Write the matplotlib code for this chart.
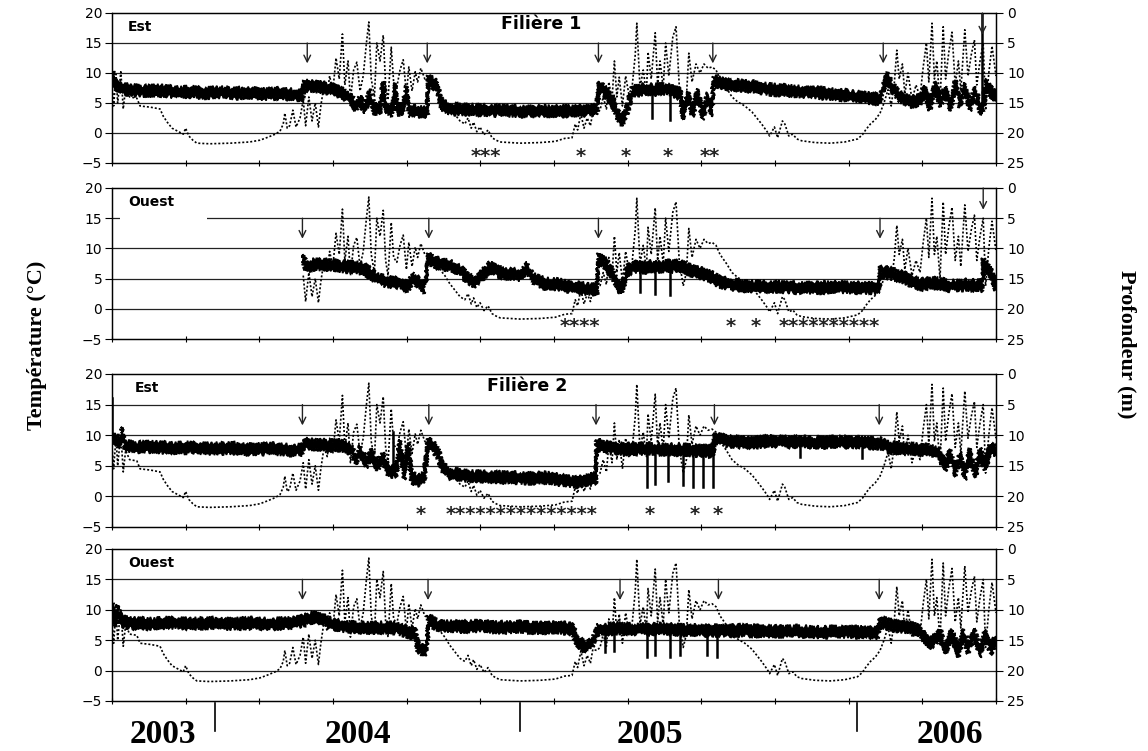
import numpy as np
import matplotlib.pyplot as plt
from matplotlib.patches import Rectangle

# Temps en jours depuis le debut des enregistrements (axe x sans etiquettes)
# Temperature (degC) - les quatre capteurs donnent des courbes quasi identiques
temperature = [
    (0, 8.0), (2, 4.5), (5, 9.8), (7, 5.0), (11, 10.2), (14, 4.0), (17, 7.5), (22, 6.0),
    (31, 5.8), (35, 4.5), (48, 4.3), (60, 4.0), (64, 2.8), (69, 1.8), (75, 0.8), (82, 0.3),
    (89, -0.2), (92, 0.8), (96, -0.5), (101, -1.2), (106, -1.7), (122, -1.8), (148, -1.7),
    (172, -1.5), (185, -1.2), (195, -0.7), (204, -0.2), (210, 0.3), (214, 1.5), (216, 3.3),
    (219, 0.8), (222, 1.2), (226, 3.8), (230, 1.0), (235, 2.5), (239, 5.5), (242, 1.2),
    (246, 6.0), (250, 2.0), (254, 5.0), (258, 1.0), (261, 4.5), (265, 8.0), (269, 6.5),
    (272, 9.5), (276, 7.0), (280, 12.5), (284, 9.0), (288, 16.5), (291, 8.0), (295, 12.0),
    (298, 5.5), (302, 10.5), (306, 11.8), (310, 7.0), (314, 9.5), (318, 15.0), (321, 18.5),
    (324, 9.0), (328, 6.0), (331, 15.0), (335, 12.0), (339, 16.3), (342, 8.0), (345, 5.5),
    (349, 14.3), (352, 8.5), (356, 7.7), (360, 10.5), (364, 12.2), (368, 6.5), (371, 11.0),
    (375, 7.0), (379, 10.2), (382, 8.5), (386, 10.8), (391, 9.0), (398, 8.5), (404, 8.0),
    (410, 6.5), (416, 5.5), (422, 4.2), (429, 3.0), (435, 2.0), (441, 1.5), (445, 2.5),
    (449, 0.8), (452, 1.8), (456, 0.2), (460, 1.0), (465, -0.3), (470, 0.5), (475, -0.8),
    (480, -1.2), (485, -1.5), (510, -1.7), (535, -1.6), (554, -1.4), (566, -0.9), (575, -0.8),
    (579, 1.5), (582, 0.5), (586, 3.2), (590, 0.8), (594, 2.5), (598, 1.2), (601, 3.5),
    (606, 3.3), (610, 3.8), (614, 6.0), (618, 4.0), (621, 8.5), (625, 5.5), (628, 12.0),
    (631, 6.0), (634, 9.3), (638, 4.5), (642, 9.5), (646, 6.5), (650, 7.5), (654, 13.0),
    (656, 18.3), (660, 7.5), (664, 10.5), (668, 6.5), (670, 13.5), (674, 9.0), (679, 16.7),
    (682, 8.0), (685, 12.0), (689, 7.5), (692, 15.0), (696, 9.5), (701, 16.0), (705, 17.7),
    (709, 8.0), (714, 3.8), (718, 6.0), (721, 13.3), (725, 8.5), (730, 11.5), (735, 10.0),
    (740, 11.5), (745, 10.8), (750, 11.0), (755, 10.5), (760, 9.0), (768, 7.5), (775, 6.0),
    (782, 5.2), (791, 4.5), (800, 3.5), (806, 2.5), (812, 1.5), (819, 0.2), (822, -0.5),
    (828, 1.0), (832, -0.8), (838, 2.0), (841, 1.5), (846, -0.5), (851, -0.2), (856, -1.0),
    (862, -1.3), (879, -1.6), (898, -1.7), (916, -1.5), (932, -1.0), (938, -0.3), (942, 0.5),
    (948, 1.5), (954, 2.2), (960, 3.3), (965, 5.0), (970, 7.2), (974, 4.5), (978, 8.5),
    (981, 13.8), (984, 9.0), (988, 11.5), (991, 6.5), (995, 10.0), (1000, 5.5), (1005, 8.0),
    (1010, 6.0), (1014, 11.0), (1018, 15.0), (1021, 8.5), (1025, 18.3), (1028, 9.0),
    (1031, 12.0), (1035, 5.0), (1039, 17.7), (1042, 9.0), (1046, 13.5), (1050, 16.8),
    (1054, 8.0), (1058, 12.0), (1061, 7.0), (1066, 17.2), (1070, 9.5), (1074, 13.0),
    (1078, 15.5), (1081, 8.0), (1085, 12.0), (1089, 15.0), (1092, 3.8), (1096, 10.0),
    (1100, 14.5), (1105, 9.5),
]

# Profondeur (m) des filieres : tendance (bande epaisse) et pics isoles (jour, de, a)
prof_f1_est = [
    (0, 11.5), (2, 10.5), (5, 12.2), (10, 12.5), (22, 12.8), (41, 13.0), (60, 12.9), (79, 13.2),
    (98, 13.1), (116, 13.3), (135, 13.2), (154, 13.4), (172, 13.3), (191, 13.5), (210, 13.4),
    (229, 13.6), (238, 13.6), (240, 12.1), (254, 12.2), (272, 12.6), (285, 13.2), (298, 14.2),
    (304, 15.5), (310, 14.5), (316, 16.0), (322, 13.5), (329, 16.2), (335, 15.8), (339, 12.2),
    (342, 16.0), (350, 16.4), (354, 12.5), (357, 16.2), (364, 16.0), (368, 13.0), (371, 16.4),
    (379, 16.4), (385, 16.5), (394, 16.6), (395, 11.2), (401, 11.6), (406, 12.2), (411, 15.2),
    (422, 16.0), (448, 16.1), (472, 16.2), (498, 16.3), (522, 16.4), (548, 16.4), (572, 16.3),
    (598, 16.2), (606, 16.1), (609, 12.2), (616, 13.2), (625, 14.5), (632, 17.0), (639, 18.0),
    (645, 15.5), (650, 13.0), (666, 12.7), (679, 12.8), (691, 12.6), (701, 13.0), (710, 13.5),
    (714, 17.0), (720, 14.0), (726, 16.5), (732, 13.5), (739, 17.0), (745, 14.0), (750, 16.5),
    (752, 11.4), (772, 12.0), (798, 12.2), (822, 12.7), (848, 13.0), (872, 13.2), (898, 13.5),
    (922, 13.8), (948, 14.2), (960, 14.4), (969, 10.7), (976, 12.5), (985, 14.0), (998, 14.8),
    (1010, 14.5), (1016, 13.0), (1022, 15.5), (1029, 12.2), (1035, 15.0), (1042, 13.0),
    (1048, 15.5), (1054, 12.0), (1060, 15.0), (1066, 12.5), (1072, 15.5), (1079, 13.0),
    (1085, 16.0), (1089, 16.0), (1092, 11.7), (1098, 13.0), (1105, 14.0),
]
pics_f1_est = [(675, 12.8, 17.5), (698, 12.6, 17.8), (1088, 16.0, 0.0)]

prof_f1_ouest = [
    (239, 11.8), (242, 13.0), (254, 12.6), (272, 12.7), (291, 13.0), (304, 13.1), (316, 13.4),
    (325, 14.4), (335, 15.2), (348, 15.6), (360, 15.7), (370, 16.4), (375, 14.9), (382, 15.5),
    (391, 16.6), (395, 11.6), (404, 12.4), (422, 12.8), (435, 13.6), (445, 15.0), (454, 15.6),
    (462, 14.5), (472, 13.1), (485, 14.0), (498, 14.2), (510, 14.4), (519, 13.2), (526, 15.0),
    (541, 15.8), (560, 16.0), (579, 16.5), (598, 16.8), (606, 16.9), (608, 11.6), (616, 12.5),
    (625, 14.0), (632, 16.2), (638, 16.6), (645, 13.5), (650, 13.2), (657, 13.0), (662, 13.2),
    (676, 13.0), (681, 13.1), (695, 12.9), (700, 13.0), (710, 12.8), (722, 13.6), (744, 14.4),
    (760, 15.6), (785, 16.2), (810, 16.3), (835, 16.4), (860, 16.5), (885, 16.5), (910, 16.4),
    (935, 16.5), (959, 16.6), (960, 13.9), (972, 14.1), (991, 14.9), (1010, 16.0), (1029, 15.7),
    (1048, 16.2), (1066, 16.0), (1088, 16.2), (1089, 12.4), (1098, 14.0), (1105, 16.2),
]
pics_f1_ouest = [(660, 13.2, 17.2), (679, 13.0, 17.5), (698, 12.9, 17.7)]

prof_f2_est = [
    (1, 10.5), (5, 10.8), (10, 11.2), (12, 9.5), (16, 11.7), (29, 12.0), (48, 11.9),
    (72, 12.1), (98, 12.0), (122, 12.2), (148, 12.1), (172, 12.3), (198, 12.2), (222, 12.4),
    (238, 12.4), (241, 11.4), (260, 11.6), (285, 11.7), (298, 12.2), (305, 14.0), (310, 12.5),
    (318, 14.5), (325, 13.0), (332, 15.0), (339, 13.5), (345, 16.0), (355, 15.8), (360, 11.5),
    (365, 16.5), (370, 12.0), (375, 17.0), (382, 17.4), (390, 17.0), (395, 11.3), (401, 11.8),
    (408, 13.0), (412, 15.2), (422, 16.3), (448, 16.7), (472, 16.8), (498, 16.9), (522, 17.0),
    (548, 17.0), (566, 17.5), (585, 17.6), (598, 17.2), (605, 17.0), (606, 11.6), (622, 12.1),
    (641, 12.3), (666, 12.2), (692, 12.3), (711, 12.4), (736, 12.5), (750, 12.7), (754, 10.5),
    (772, 11.1), (798, 11.2), (822, 11.0), (848, 11.1), (885, 11.2), (910, 11.1), (959, 11.3),
    (972, 12.0), (998, 12.2), (1022, 12.5), (1035, 13.0), (1042, 15.0), (1048, 13.2),
    (1054, 16.0), (1060, 13.5), (1066, 16.5), (1072, 13.0), (1079, 16.2), (1085, 12.8),
    (1091, 15.0), (1098, 12.2), (1105, 12.5),
]
pics_f2_est = [(0, 10.5, 4.0), (351, 14.5, 9.5), (669, 12.2, 18.5), (679, 12.1, 18.0),
               (695, 12.3, 17.5), (714, 12.4, 18.2), (726, 12.5, 18.4), (739, 12.5, 18.4),
               (751, 12.7, 18.4), (860, 11.1, 13.5), (938, 11.1, 13.7)]

prof_f2_ouest = [
    (0, 11.5), (1, 9.7), (4, 12.0), (7, 10.0), (11, 11.8), (22, 12.2), (48, 12.3), (72, 12.1),
    (98, 12.3), (122, 12.2), (148, 12.3), (172, 12.2), (198, 12.3), (222, 12.2), (241, 11.7),
    (250, 11.2), (266, 11.8), (279, 12.5), (298, 12.8), (316, 13.0), (335, 12.9), (354, 13.0),
    (366, 13.4), (379, 14.0), (382, 16.1), (390, 16.8), (394, 16.2), (395, 11.7), (410, 12.7),
    (435, 12.8), (460, 12.7), (485, 12.9), (510, 12.8), (535, 13.0), (560, 12.9), (575, 13.2),
    (582, 15.0), (591, 16.3), (600, 15.5), (608, 13.2), (620, 13.2), (632, 13.0), (641, 13.2),
    (666, 13.2), (695, 13.2), (712, 13.3), (741, 13.4), (759, 13.5), (785, 13.4), (810, 13.5),
    (835, 13.6), (860, 13.5), (885, 13.7), (910, 13.6), (935, 13.7), (958, 13.8), (960, 12.1),
    (979, 12.6), (998, 13.0), (1010, 13.5), (1020, 15.5), (1029, 15.0), (1035, 14.0),
    (1042, 16.5), (1050, 14.0), (1058, 17.0), (1064, 14.0), (1070, 16.5), (1078, 13.8),
    (1085, 17.0), (1091, 14.0), (1098, 16.5), (1105, 15.0),
]
pics_f2_ouest = [(616, 13.2, 17.0), (628, 13.0, 16.8), (669, 13.2, 17.8), (679, 13.3, 17.5),
                 (698, 13.2, 17.8), (710, 13.2, 17.5), (744, 13.4, 17.5), (756, 13.3, 17.8)]

# Fleches (jours) et etoiles (jour, nombre)
fleches_f1_est = [244, 394, 608, 751, 964]
fleches_f1_ouest = [238, 396, 608, 960]
fleches_f2_est = [238, 396, 605, 753, 959]
fleches_f2_ouest = [238, 395, 635, 758, 959]
etoiles_f1_est = [(467, 3), (586, 1), (642, 1), (695, 1), (747, 2)]
etoiles_f1_ouest = [(585, 4), (774, 1), (805, 1), (896, 10)]
etoiles_f2_est = [(386, 1), (512, 15), (672, 1), (729, 1), (757, 1)]

annees = ['2003', '2004', '2005', '2006']
pos_annees = [64, 307, 672, 1047]
separations = [129, 510, 931]

panneaux = [
    dict(prof=prof_f1_est, pics=pics_f1_est, debut=0, site='Est', x_site=20,
         titre='Filière 1', x_titre=536, fleches=fleches_f1_est, haut=[1088],
         etoiles=etoiles_f1_est, y_et=-4.0, box=(0.7830, 0.1997)),
    dict(prof=prof_f1_ouest, pics=pics_f1_ouest, debut=238, site='Ouest', x_site=20,
         titre=None, x_titre=0, fleches=fleches_f1_ouest, haut=[1089],
         etoiles=etoiles_f1_ouest, y_et=-3.0, box=(0.5486, 0.2011)),
    dict(prof=prof_f2_est, pics=pics_f2_est, debut=0, site='Est', x_site=29,
         titre='Filière 2', x_titre=519, fleches=fleches_f2_est, haut=[],
         etoiles=etoiles_f2_est, y_et=-3.0, box=(0.2983, 0.2037)),
    dict(prof=prof_f2_ouest, pics=pics_f2_ouest, debut=0, site='Ouest', x_site=20,
         titre=None, x_titre=0, fleches=fleches_f2_ouest, haut=[],
         etoiles=[], y_et=-3.0, box=(0.0666, 0.2024)),
]

demi_bande = 0.8  # demi-epaisseur du trait de profondeur (m)

jt = np.array([p[0] for p in temperature], dtype=float)
tt = np.array([p[1] for p in temperature], dtype=float)

fig = plt.figure(figsize=(11.48, 7.51), dpi=100)

for i, pan in enumerate(panneaux):
    ax = fig.add_axes([0.0976, pan['box'][0], 0.770, pan['box'][1]])
    ax.set_xlim(0, 1105)
    ax.set_ylim(-5, 20)
    ax.set_yticks([-5, 0, 5, 10, 15, 20])
    ax.set_xticks(np.linspace(0, 1105, 13))
    ax.set_xticklabels([])
    for y in [0, 5, 10, 15]:
        ax.axhline(y, color='#222222', lw=0.9, zorder=1)
    ax.tick_params(axis='y', direction='out', length=5, width=0.8, pad=2, labelsize=10)
    ax.tick_params(axis='x', direction='inout', length=4, width=0.8)
    for lab in ax.get_yticklabels():
        lab.set_fontfamily('DejaVu Sans')
    for s in ax.spines.values():
        s.set_linewidth(0.9)

    # temperature en pointille
    m = jt >= pan['debut']
    ax.plot(jt[m], tt[m], color='black', lw=1.2, ls=(0, (1.2, 1.2)), zorder=2)

    # profondeur sur l'axe de droite (inverse)
    ax2 = ax.twinx()
    ax2.set_ylim(25, 0)
    ax2.set_yticks([0, 5, 10, 15, 20, 25])
    ax2.tick_params(axis='y', direction='out', length=5, width=0.8, pad=3, labelsize=10)
    for lab in ax2.get_yticklabels():
        lab.set_fontfamily('DejaVu Sans')
    for s in ax2.spines.values():
        s.set_linewidth(0.9)
    jp = np.array([p[0] for p in pan['prof']], dtype=float)
    pp = np.array([p[1] for p in pan['prof']], dtype=float)
    poly = ax2.fill(np.concatenate([jp, jp[::-1]]),
                    np.concatenate([pp - demi_bande, (pp + demi_bande)[::-1]]),
                    facecolor='black', edgecolor='black', lw=1.2, zorder=3)[0]
    poly.set_sketch_params(2.0, 1.2, 3)
    for x, a, b in pan['pics']:
        ax2.plot([x, x], [a, b], color='black', lw=1.8, zorder=3)

    # fleches
    for x in pan['fleches']:
        ax2.annotate('', xy=(x, 8.4), xytext=(x, 5.0),
                     arrowprops=dict(arrowstyle='->', lw=1.0, color='#222222',
                                     mutation_scale=12, shrinkA=0, shrinkB=0))
    for x in pan['haut']:
        ax2.annotate('', xy=(x, 3.6), xytext=(x, 0.0),
                     arrowprops=dict(arrowstyle='->', lw=1.0, color='#222222',
                                     mutation_scale=12, shrinkA=0, shrinkB=0))

    for x, n in pan['etoiles']:
        ax.text(x, pan['y_et'], '*' * n, ha='center', va='center', fontsize=14,
                fontweight='bold', family='DejaVu Sans', color='#222222', zorder=4)

    ax.text(pan['x_site'], 17.7, pan['site'], ha='left', va='center',
            fontsize=10, fontweight='bold', family='DejaVu Sans', zorder=6)
    if i == 1:
        ax.add_patch(Rectangle((0.009, 0.775), 0.098, 0.21, transform=ax.transAxes,
                               facecolor='white', edgecolor='none', zorder=5))
    if pan['titre']:
        ax.text(pan['x_titre'], 18.1, pan['titre'], ha='center', va='center',
                fontsize=12.5, fontweight='bold', family='DejaVu Sans', zorder=6)

    if i == 3:
        tr = ax.get_xaxis_transform()
        for x, lab in zip(pos_annees, annees):
            ax.text(x, -0.22, lab, transform=tr, ha='center', va='center',
                    fontsize=24, fontweight='bold', family='Liberation Serif')
        for x in separations:
            ax.plot([x, x], [-0.01, -0.2], transform=tr, color='black', lw=1.2,
                    clip_on=False)

fig.text(0.032, 0.54, 'Température (°C)', rotation=90, ha='center', va='center',
         fontsize=16, fontweight='bold', family='Liberation Serif')
fig.text(0.981, 0.542, 'Profondeur (m)', rotation=-90, ha='center', va='center',
         fontsize=16, fontweight='bold', family='Liberation Serif')

fig.savefig('out.png', dpi=100)
